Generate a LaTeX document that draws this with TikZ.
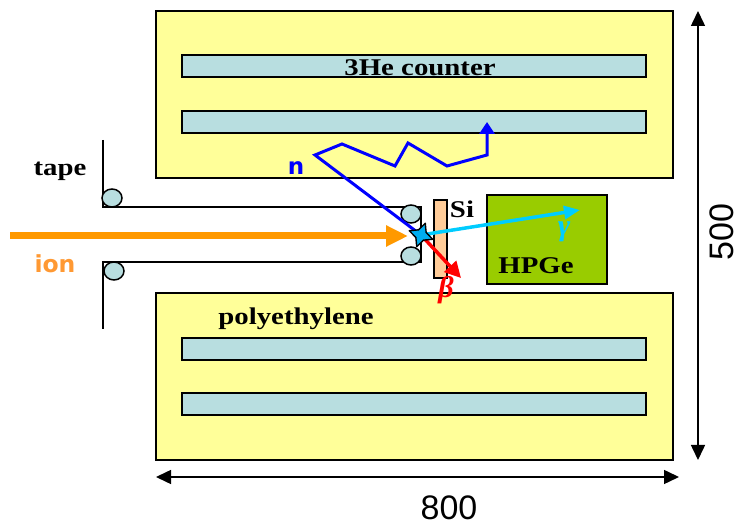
\documentclass[tikz,border=0pt]{standalone}
\usepackage{fontspec}
\setsansfont{Liberation Sans}
\setmainfont{Liberation Serif}
\newfontfamily\widefont[FakeStretch=1.2]{Liberation Serif}
\newfontfamily\verafont{DejaVu Sans}
\usepackage{tikz}
\usetikzlibrary{arrows.meta}
\usetikzlibrary{shapes.geometric}
\definecolor{polyyellow}{RGB}{255,255,153}
\definecolor{tubeblue}{RGB}{184,222,224}
\definecolor{siorange}{RGB}{255,204,153}
\definecolor{geGreen}{RGB}{153,204,0}
\definecolor{ionorange}{RGB}{255,153,0}
\definecolor{ionlabel}{RGB}{255,153,51}
\definecolor{gammablue}{RGB}{0,204,255}
\tikzset{
  moderator/.style={draw,line width=1.5pt,fill=polyyellow,minimum width=517pt,minimum height=167pt,inner sep=0pt},
  counter/.style={draw,line width=1.3pt,fill=tubeblue,minimum width=464pt,minimum height=22pt,inner sep=0pt},
  roller/.style={draw,line width=1.5pt,fill=tubeblue,ellipse,minimum width=20pt,minimum height=18pt,inner sep=0pt},
  boldlabel/.style={font=\widefont\bfseries\fontsize{24}{26}\selectfont,inner sep=0pt},
  greeklabel/.style={font=\rmfamily\bfseries\itshape\fontsize{30}{32}\selectfont,inner sep=0pt},
  dimlabel/.style={font=\sffamily\fontsize{34}{36}\selectfont,inner sep=0pt},
  dimarrow/.style={line width=1.5pt,{Triangle[length=15pt,width=14pt]}-{Triangle[length=15pt,width=14pt]}},
  track/.style={line width=#1},
}
\begin{document}
\begin{tikzpicture}[x=1pt,y=-1pt]
  \useasboundingbox (0,0) rectangle (740,526);
  %polyethylene
  \node[moderator] (ptop) at (414.5,94.5) {};
  \node[moderator] (pbot) at (414.5,376.5) {};
  %counters
  \node[counter] (c1) at (414,66) {};
  \node[counter] (c2) at (414,122) {};
  \node[counter] (c3) at (414,349) {};
  \node[counter] (c4) at (414,404) {};
  %detectors
  \node[draw,line width=1.5pt,fill=siorange,minimum width=13pt,minimum height=78pt,inner sep=0pt] (si) at (440.5,239) {};
  \node[draw,line width=1.8pt,fill=geGreen,minimum width=120pt,minimum height=89pt,inner sep=0pt] (hpge) at (547,239.5) {};
  %tape
  \coordinate (t1) at (103,140);
  \coordinate (t2) at (103,207);
  \coordinate (t3) at (421,207);
  \coordinate (t4) at (421,262);
  \coordinate (t5) at (103,262);
  \coordinate (t6) at (103,329);
  \draw[line width=1.6pt,line join=miter] (t1) -- (t2) -- (t3) -- (t4) -- (t5) -- (t6);
  \node[roller] (r1) at (112,198) {};
  \node[roller] (r2) at (114,271) {};
  \node[roller] (r3) at (411,214) {};
  \node[roller] (r4) at (411,256) {};
  %ion beam
  \coordinate (beam) at (10,236);
  \coordinate (impl) at (421,235);
  \coordinate (beamend) at (408,236);
  \draw[ionorange,line width=7pt,-{Triangle[length=22pt,width=20pt]}] (beam) -- (beamend);
  %neutron
  \coordinate (n1) at (315,155);
  \coordinate (n2) at (342,144);
  \coordinate (n3) at (395,166);
  \coordinate (n4) at (408,143);
  \coordinate (n5) at (447,166);
  \coordinate (n6) at (487,155);
  \coordinate (n7) at (487,122);
  \draw[blue,track=3pt,line join=miter,-{Triangle[length=12pt,width=15pt]}] (impl) -- (n1) -- (n2) -- (n3) -- (n4) -- (n5) -- (n6) -- (n7);
  %gamma and beta
  \coordinate (gend) at (580,210);
  \coordinate (bend) at (461,278);
  \draw[gammablue,track=3.5pt,-{Triangle[length=16pt,width=13pt]}] (impl) -- (gend);
  \draw[red,track=3.5pt,-{Triangle[length=16pt,width=16pt]}] (impl) -- (bend);
  \node[draw,line width=1.4pt,line join=round,fill=cyan,star,star points=4,star point ratio=2.2,minimum size=25pt,inner sep=0pt,rotate=-20] (decay) at (impl) {};
  %labels
  \node[boldlabel] (lhe) at (420,68) {3He counter};
  \node[boldlabel] (lpoly) at (296,319) {polyethylene};
  \node[boldlabel] (ltape) at (60,171) {tape};
  \node[boldlabel] (lsi) at (462,209) {Si};
  \node[boldlabel] (lge) at (536,266) {HPGe};
  \node[font=\verafont\bfseries\fontsize{23.5}{26}\selectfont,text=ionlabel,inner sep=0pt] (lion) at (55,264) {ion};
  \node[font=\verafont\bfseries\fontsize{23}{26}\selectfont,text=blue,inner sep=0pt] (ln) at (296,168) {n};
  \node[greeklabel,text=red] (lbeta) at (446,290) {β};
  \node[greeklabel,text=gammablue] (lgamma) at (564,232) {γ};
  %dimensions
  \coordinate (dv1) at (698,11);
  \coordinate (dv2) at (698,460);
  \coordinate (dh1) at (156,477);
  \coordinate (dh2) at (679,477);
  \draw[dimarrow] (dv1) -- (dv2);
  \draw[dimarrow] (dh1) -- (dh2);
  \node[dimlabel,rotate=90] (l500) at (722,232) {500};
  \node[dimlabel] (l800) at (449,508) {800};
\end{tikzpicture}
\end{document}
